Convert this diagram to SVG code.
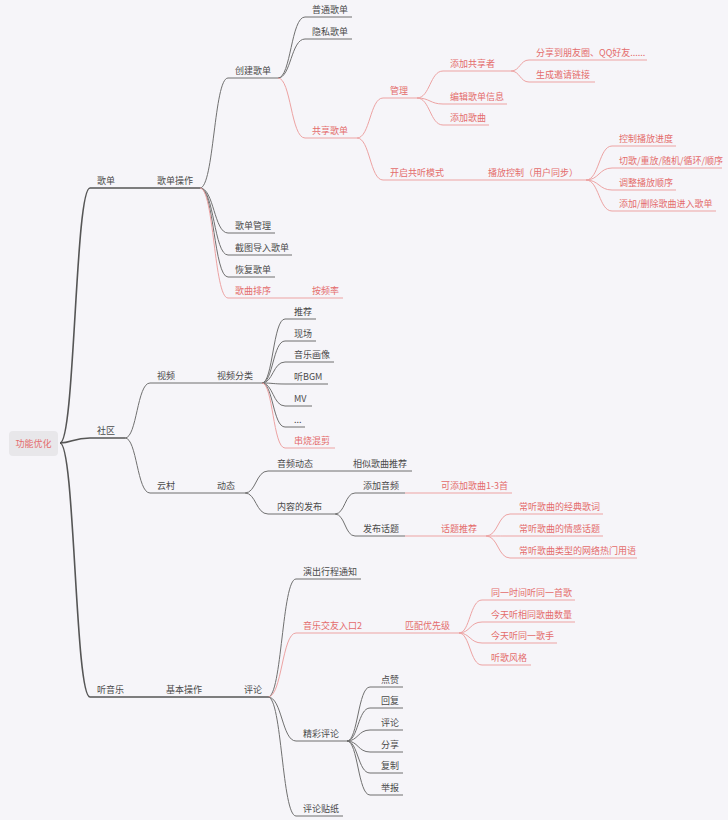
<svg xmlns="http://www.w3.org/2000/svg" width="728" height="820" viewBox="0 0 728 820">
<style>
text{font-family:"Noto Sans CJK SC","Noto Sans",sans-serif;font-size:9px;fill:#4a4a4a}
text.r{fill:#e46c6c}
.u{stroke:#6e6e6e;stroke-width:1;fill:none}
.ur{stroke:#eda3a3;stroke-width:1;fill:none}
.um{stroke:#555;stroke-width:1.5;fill:none}
.c{stroke:#707070;stroke-width:1;fill:none}
.cr{stroke:#eda3a3;stroke-width:1;fill:none}
.cm{stroke:#555;stroke-width:1.6;fill:none}
</style>
<rect width="728" height="820" fill="#f6f5f9"/>
<g id="connectors">
<path class="cm" d="M60 443 C75 443 75 188 90 188"/>
<path class="cm" d="M60 443 C72 443 73 438 90 438"/>
<path class="cm" d="M60 443 C75 443 75 697 90 697"/>
<path class="um" d="M120 188 H150"/>
<path class="c" d="M200 188 C214 188 214 78 228 78"/>
<path class="c" d="M200 188 C214 188 214 233 228 233"/>
<path class="c" d="M200 188 C214 188 214 255 228 255"/>
<path class="c" d="M200 188 C214 188 214 277 228 277"/>
<path class="cr" d="M200 188 C214 188 214 298 228 298"/>
<path class="ur" d="M275 298 H305"/>
<path class="c" d="M278 78 C291 78 291 17 305 17"/>
<path class="c" d="M278 78 C291 78 291 39 305 39"/>
<path class="cr" d="M278 78 C291 78 291 138 305 138"/>
<path class="cr" d="M357 138 C370 138 370 98 383 98"/>
<path class="cr" d="M357 138 C370 138 370 180 383 180"/>
<path class="cr" d="M447 180 H481"/>
<path class="cr" d="M417 98 C430 98 430 71 443 71"/>
<path class="cr" d="M417 98 C430 98 430 104 443 104"/>
<path class="cr" d="M417 98 C430 98 430 125 443 125"/>
<path class="cr" d="M511 71 C520 71 520 60 529 60"/>
<path class="cr" d="M511 71 C520 71 520 82 529 82"/>
<path class="cr" d="M586 180 C599 180 599 146 612 146"/>
<path class="cr" d="M586 180 C599 180 599 168 612 168"/>
<path class="cr" d="M586 180 C599 180 599 190 612 190"/>
<path class="cr" d="M586 180 C599 180 599 211 612 211"/>
<path class="c" d="M125 438 C137 438 137 383 150 383"/>
<path class="c" d="M125 438 C137 438 137 493 150 493"/>
<path class="u" d="M182 383 H210"/>
<path class="u" d="M182 493 H210"/>
<path class="c" d="M262 383 C273 383 273 319 285 319"/>
<path class="c" d="M262 383 C273 383 273 341 285 341"/>
<path class="c" d="M262 383 C273 383 273 362 285 362"/>
<path class="c" d="M262 383 C273 383 273 384 285 384"/>
<path class="c" d="M262 383 C273 383 273 406 285 406"/>
<path class="c" d="M262 383 C273 383 273 427 285 427"/>
<path class="cr" d="M262 383 C273 383 273 448 285 448"/>
<path class="c" d="M245 493 C256 493 256 471 268 471"/>
<path class="c" d="M245 493 C256 493 256 514 268 514"/>
<path class="u" d="M318 471 H346"/>
<path class="c" d="M335 514 C345 514 345 493 355 493"/>
<path class="c" d="M335 514 C345 514 345 536 355 536"/>
<path class="cr" d="M405 493 H434"/>
<path class="cr" d="M405 536 H434"/>
<path class="cr" d="M486 536 C498 536 498 514 510 514"/>
<path class="cr" d="M486 536 C498 536 498 536 510 536"/>
<path class="cr" d="M486 536 C498 536 498 558 510 558"/>
<path class="um" d="M130 697 H159"/>
<path class="um" d="M208 697 H237"/>
<path class="c" d="M268 697 C282 697 282 579 296 579"/>
<path class="cr" d="M268 697 C282 697 282 633 296 633"/>
<path class="c" d="M268 697 C282 697 282 741 296 741"/>
<path class="c" d="M268 697 C282 697 282 816 296 816"/>
<path class="cr" d="M370 633 H398"/>
<path class="cr" d="M459 633 C470 633 470 600 482 600"/>
<path class="cr" d="M459 633 C470 633 470 622 482 622"/>
<path class="cr" d="M459 633 C470 633 470 643 482 643"/>
<path class="cr" d="M459 633 C470 633 470 665 482 665"/>
<path class="c" d="M347 741 C358 741 358 687 370 687"/>
<path class="c" d="M347 741 C358 741 358 708 370 708"/>
<path class="c" d="M347 741 C358 741 358 730 370 730"/>
<path class="c" d="M347 741 C358 741 358 752 370 752"/>
<path class="c" d="M347 741 C358 741 358 773 370 773"/>
<path class="c" d="M347 741 C358 741 358 795 370 795"/>
</g>
<g id="root"><rect x="9" y="431" width="49" height="25" rx="4" fill="#e8e7ea"/><text class="r" x="33.5" y="446.5" text-anchor="middle">功能优化</text></g>
<g id="n_gedan"><path class="um" d="M90 188H120"/><text x="97" y="184">歌单</text></g>
<g id="n_gedancz"><path class="um" d="M150 188H200"/><text x="157" y="184">歌单操作</text></g>
<g id="n_chuangjian"><path class="u" d="M228 78H278"/><text x="235" y="74">创建歌单</text></g>
<g id="n_putong"><path class="u" d="M305 17H352"/><text x="312" y="13">普通歌单</text></g>
<g id="n_yinsi"><path class="u" d="M305 39H352"/><text x="312" y="35">隐私歌单</text></g>
<g id="n_gongxiang"><path class="ur" d="M305 138H357"/><text class="r" x="312" y="134">共享歌单</text></g>
<g id="n_guanli"><path class="ur" d="M383 98H417"/><text class="r" x="390" y="94">管理</text></g>
<g id="n_addshare"><path class="ur" d="M443 71H511"/><text class="r" x="450" y="67">添加共享者</text></g>
<g id="n_fenxiang"><path class="ur" d="M529 60H647"/><text class="r" x="536" y="56">分享到朋友圈、QQ好友......</text></g>
<g id="n_yaoqing"><path class="ur" d="M529 82H595"/><text class="r" x="536" y="78">生成邀请链接</text></g>
<g id="n_edit"><path class="ur" d="M443 104H507"/><text class="r" x="450" y="100">编辑歌单信息</text></g>
<g id="n_addsong"><path class="ur" d="M443 125H489"/><text class="r" x="450" y="121">添加歌曲</text></g>
<g id="n_gongting"><path class="ur" d="M383 180H447"/><text class="r" x="390" y="176">开启共听模式</text></g>
<g id="n_bofang"><path class="ur" d="M481 180H586"/><text class="r" x="488" y="176">播放控制（用户同步）</text></g>
<g id="n_jindu"><path class="ur" d="M612 146H676"/><text class="r" x="619" y="142">控制播放进度</text></g>
<g id="n_qiege"><path class="ur" d="M612 168H722"/><text class="r" x="619" y="164">切歌/重放/随机/循环/顺序</text></g>
<g id="n_shunxu"><path class="ur" d="M612 190H676"/><text class="r" x="619" y="186">调整播放顺序</text></g>
<g id="n_tianjia"><path class="ur" d="M612 211H716"/><text class="r" x="619" y="207">添加/删除歌曲进入歌单</text></g>
<g id="n_gdgl"><path class="u" d="M228 233H275"/><text x="235" y="229">歌单管理</text></g>
<g id="n_jietu"><path class="u" d="M228 255H292"/><text x="235" y="251">截图导入歌单</text></g>
<g id="n_huifu"><path class="u" d="M228 277H275"/><text x="235" y="273">恢复歌单</text></g>
<g id="n_paixu"><path class="ur" d="M228 298H275"/><text class="r" x="235" y="294">歌曲排序</text></g>
<g id="n_pinlv"><path class="ur" d="M305 298H343"/><text class="r" x="312" y="294">按频率</text></g>
<g id="n_shequ"><path class="um" d="M90 438H125"/><text x="97" y="434">社区</text></g>
<g id="n_shipin"><path class="u" d="M150 383H182"/><text x="157" y="379">视频</text></g>
<g id="n_spfl"><path class="u" d="M210 383H262"/><text x="217" y="379">视频分类</text></g>
<g id="n_tuijian"><path class="u" d="M285 319H316"/><text x="294" y="315">推荐</text></g>
<g id="n_xianchang"><path class="u" d="M285 341H316"/><text x="294" y="337">现场</text></g>
<g id="n_huaxiang"><path class="u" d="M285 362H334"/><text x="294" y="358">音乐画像</text></g>
<g id="n_bgm"><path class="u" d="M285 384H328"/><text x="294" y="380">听BGM</text></g>
<g id="n_mv"><path class="u" d="M285 406H312"/><text x="294" y="402">MV</text></g>
<g id="n_dots"><path class="u" d="M285 427H305"/><text x="294" y="423">...</text></g>
<g id="n_chuanshao"><path class="ur" d="M285 448H335"/><text class="r" x="294" y="444">串烧混剪</text></g>
<g id="n_yuncun"><path class="u" d="M150 493H182"/><text x="157" y="489">云村</text></g>
<g id="n_dongtai"><path class="u" d="M210 493H245"/><text x="217" y="489">动态</text></g>
<g id="n_ypdt"><path class="u" d="M268 471H318"/><text x="277" y="467">音频动态</text></g>
<g id="n_xiangsi"><path class="u" d="M346 471H412"/><text x="353" y="467">相似歌曲推荐</text></g>
<g id="n_fabu"><path class="u" d="M268 514H335"/><text x="277" y="510">内容的发布</text></g>
<g id="n_addaudio"><path class="u" d="M355 493H405"/><text x="363" y="489">添加音频</text></g>
<g id="n_ketianjia"><path class="ur" d="M434 493H512"/><text class="r" x="441" y="489">可添加歌曲1-3首</text></g>
<g id="n_huati"><path class="u" d="M355 536H405"/><text x="363" y="532">发布话题</text></g>
<g id="n_htuijian"><path class="ur" d="M434 536H486"/><text class="r" x="441" y="532">话题推荐</text></g>
<g id="n_geci"><path class="ur" d="M510 514H603"/><text class="r" x="519" y="510">常听歌曲的经典歌词</text></g>
<g id="n_qinggan"><path class="ur" d="M510 536H603"/><text class="r" x="519" y="532">常听歌曲的情感话题</text></g>
<g id="n_wangluo"><path class="ur" d="M510 558H637"/><text class="r" x="519" y="554">常听歌曲类型的网络热门用语</text></g>
<g id="n_tingyinyue"><path class="um" d="M90 697H130"/><text x="97" y="693">听音乐</text></g>
<g id="n_jiben"><path class="um" d="M159 697H208"/><text x="166" y="693">基本操作</text></g>
<g id="n_pinglun"><path class="um" d="M237 697H268"/><text x="244" y="693">评论</text></g>
<g id="n_yanchu"><path class="u" d="M296 579H361"/><text x="303" y="575">演出行程通知</text></g>
<g id="n_jiaoyou"><path class="ur" d="M296 633H370"/><text class="r" x="303" y="629">音乐交友入口2</text></g>
<g id="n_pipei"><path class="ur" d="M398 633H459"/><text class="r" x="405" y="629">匹配优先级</text></g>
<g id="n_tongyi"><path class="ur" d="M482 600H575"/><text class="r" x="491" y="596">同一时间听同一首歌</text></g>
<g id="n_shuliang"><path class="ur" d="M482 622H575"/><text class="r" x="491" y="618">今天听相同歌曲数量</text></g>
<g id="n_geshou"><path class="ur" d="M482 643H557"/><text class="r" x="491" y="639">今天听同一歌手</text></g>
<g id="n_fengge"><path class="ur" d="M482 665H531"/><text class="r" x="491" y="661">听歌风格</text></g>
<g id="n_jingcai"><path class="u" d="M296 741H347"/><text x="303" y="737">精彩评论</text></g>
<g id="n_dianzan"><path class="u" d="M370 687H403"/><text x="381" y="683">点赞</text></g>
<g id="n_huifu2"><path class="u" d="M370 708H403"/><text x="381" y="704">回复</text></g>
<g id="n_pinglun2"><path class="u" d="M370 730H403"/><text x="381" y="726">评论</text></g>
<g id="n_fenxiang2"><path class="u" d="M370 752H403"/><text x="381" y="748">分享</text></g>
<g id="n_fuzhi"><path class="u" d="M370 773H403"/><text x="381" y="769">复制</text></g>
<g id="n_jubao"><path class="u" d="M370 795H403"/><text x="381" y="791">举报</text></g>
<g id="n_tiezhi"><path class="u" d="M296 816H343"/><text x="303" y="812">评论贴纸</text></g>
</svg>
